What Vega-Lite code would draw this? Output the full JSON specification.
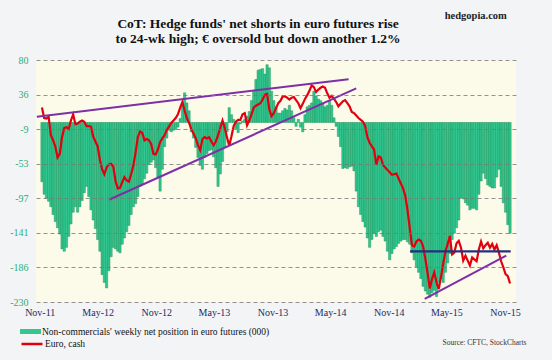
{
  "$schema": "https://vega.github.io/schema/vega-lite/v6.json",
  "width": 480,
  "height": 242,
  "autosize": {"type": "none"},
  "padding": {"left": 36, "top": 60, "right": 36, "bottom": 58},
  "background": "#f3f4f6",
  "title": {
    "text": "CoT: Hedge funds' net shorts in euro futures rise",
    "subtitle": "to 24-wk high; € oversold but down another 1.2%",
    "font": "Liberation Serif",
    "fontSize": 13.5,
    "fontWeight": "bold",
    "color": "#111111",
    "subtitleFont": "Liberation Serif",
    "subtitleFontSize": 13.5,
    "subtitleFontWeight": "bold",
    "subtitleColor": "#111111",
    "subtitlePadding": 1,
    "anchor": "middle",
    "frame": "group",
    "dx": -18,
    "offset": -34
  },
  "config": {
    "view": {"fill": "#fcfbea", "stroke": null},
    "font": "Liberation Serif"
  },
  "datasets": {
    "cot": [
      {"date":"2011-11-08","net":-76,"eur":135.3},
      {"date":"2011-11-15","net":-92,"eur":133.6},
      {"date":"2011-11-22","net":-97,"eur":133.5},
      {"date":"2011-11-29","net":-101,"eur":133.8},
      {"date":"2011-12-06","net":-108,"eur":130.8},
      {"date":"2011-12-13","net":-118,"eur":130.0},
      {"date":"2011-12-20","net":-127,"eur":129.0},
      {"date":"2011-12-27","net":-135,"eur":127.2},
      {"date":"2012-01-03","net":-143,"eur":127.8},
      {"date":"2012-01-10","net":-162,"eur":130.5},
      {"date":"2012-01-17","net":-165,"eur":132.0},
      {"date":"2012-01-24","net":-160,"eur":132.1},
      {"date":"2012-01-31","net":-146,"eur":131.8},
      {"date":"2012-02-07","net":-130,"eur":133.2},
      {"date":"2012-02-14","net":-115,"eur":134.2},
      {"date":"2012-02-21","net":-108,"eur":132.6},
      {"date":"2012-02-28","net":-115,"eur":132.7},
      {"date":"2012-03-06","net":-108,"eur":133.0},
      {"date":"2012-03-13","net":-100,"eur":133.2},
      {"date":"2012-03-20","net":-90,"eur":133.0},
      {"date":"2012-03-27","net":-82,"eur":132.3},
      {"date":"2012-04-03","net":-95,"eur":132.3},
      {"date":"2012-04-10","net":-112,"eur":132.2},
      {"date":"2012-04-17","net":-125,"eur":130.6},
      {"date":"2012-04-24","net":-136,"eur":129.8},
      {"date":"2012-05-01","net":-150,"eur":129.0},
      {"date":"2012-05-08","net":-165,"eur":126.8},
      {"date":"2012-05-15","net":-195,"eur":125.3},
      {"date":"2012-05-22","net":-205,"eur":124.5},
      {"date":"2012-05-29","net":-212,"eur":125.6},
      {"date":"2012-06-05","net":-190,"eur":126.1},
      {"date":"2012-06-12","net":-172,"eur":126.2},
      {"date":"2012-06-19","net":-160,"eur":125.7},
      {"date":"2012-06-26","net":-162,"eur":123.4},
      {"date":"2012-07-03","net":-165,"eur":122.2},
      {"date":"2012-07-10","net":-167,"eur":122.3},
      {"date":"2012-07-17","net":-156,"eur":123.2},
      {"date":"2012-07-24","net":-148,"eur":124.0},
      {"date":"2012-07-31","net":-140,"eur":123.5},
      {"date":"2012-08-07","net":-132,"eur":123.3},
      {"date":"2012-08-14","net":-118,"eur":124.5},
      {"date":"2012-08-21","net":-108,"eur":125.9},
      {"date":"2012-08-28","net":-104,"eur":128.0},
      {"date":"2012-09-04","net":-95,"eur":130.5},
      {"date":"2012-09-11","net":-82,"eur":131.4},
      {"date":"2012-09-18","net":-79,"eur":131.2},
      {"date":"2012-09-25","net":-72,"eur":130.0},
      {"date":"2012-10-02","net":-65,"eur":130.2},
      {"date":"2012-10-09","net":-54,"eur":130.0},
      {"date":"2012-10-16","net":-51,"eur":129.4},
      {"date":"2012-10-23","net":-48,"eur":127.8},
      {"date":"2012-10-30","net":-58,"eur":127.7},
      {"date":"2012-11-06","net":-70,"eur":128.5},
      {"date":"2012-11-13","net":-88,"eur":129.7},
      {"date":"2012-11-20","net":-60,"eur":130.3},
      {"date":"2012-11-27","net":-31,"eur":130.8},
      {"date":"2012-12-04","net":-20,"eur":131.7},
      {"date":"2012-12-11","net":-10,"eur":132.2},
      {"date":"2012-12-18","net":-12,"eur":132.8},
      {"date":"2012-12-25","net":-10,"eur":133.2},
      {"date":"2013-01-01","net":-9,"eur":133.6},
      {"date":"2013-01-08","net":-6,"eur":134.2},
      {"date":"2013-01-15","net":5,"eur":135.3},
      {"date":"2013-01-22","net":22,"eur":136.2},
      {"date":"2013-01-29","net":38,"eur":134.8},
      {"date":"2013-02-05","net":25,"eur":133.6},
      {"date":"2013-02-12","net":15,"eur":132.8},
      {"date":"2013-02-19","net":-12,"eur":131.8},
      {"date":"2013-02-26","net":-20,"eur":131.1},
      {"date":"2013-03-05","net":-32,"eur":130.3},
      {"date":"2013-03-12","net":-45,"eur":129.2},
      {"date":"2013-03-19","net":-55,"eur":128.4},
      {"date":"2013-03-26","net":-60,"eur":130.2},
      {"date":"2013-04-02","net":-45,"eur":130.5},
      {"date":"2013-04-09","net":-40,"eur":130.3},
      {"date":"2013-04-16","net":-36,"eur":130.5},
      {"date":"2013-04-23","net":-35,"eur":129.8},
      {"date":"2013-04-30","net":-44,"eur":129.2},
      {"date":"2013-05-07","net":-58,"eur":129.8},
      {"date":"2013-05-14","net":-82,"eur":130.8},
      {"date":"2013-05-21","net":-66,"eur":132.0},
      {"date":"2013-05-28","net":-50,"eur":133.2},
      {"date":"2013-06-04","net":-32,"eur":132.0},
      {"date":"2013-06-11","net":-12,"eur":130.5},
      {"date":"2013-06-18","net":19,"eur":129.1},
      {"date":"2013-06-25","net":10,"eur":130.6},
      {"date":"2013-07-02","net":4,"eur":132.3},
      {"date":"2013-07-09","net":-8,"eur":133.0},
      {"date":"2013-07-16","net":-13,"eur":133.3},
      {"date":"2013-07-23","net":-2,"eur":133.3},
      {"date":"2013-07-30","net":2,"eur":134.2},
      {"date":"2013-08-06","net":4,"eur":134.4},
      {"date":"2013-08-13","net":8,"eur":132.4},
      {"date":"2013-08-20","net":14,"eur":133.2},
      {"date":"2013-08-27","net":28,"eur":134.2},
      {"date":"2013-09-03","net":40,"eur":135.3},
      {"date":"2013-09-10","net":55,"eur":135.6},
      {"date":"2013-09-17","net":67,"eur":135.8},
      {"date":"2013-09-24","net":68,"eur":136.0},
      {"date":"2013-10-01","net":69,"eur":136.6},
      {"date":"2013-10-08","net":62,"eur":137.4},
      {"date":"2013-10-15","net":74,"eur":137.5},
      {"date":"2013-10-22","net":70,"eur":135.0},
      {"date":"2013-10-29","net":40,"eur":133.9},
      {"date":"2013-11-05","net":28,"eur":134.4},
      {"date":"2013-11-12","net":20,"eur":135.2},
      {"date":"2013-11-19","net":12,"eur":136.0},
      {"date":"2013-11-26","net":12,"eur":136.4},
      {"date":"2013-12-03","net":15,"eur":137.1},
      {"date":"2013-12-10","net":18,"eur":137.1},
      {"date":"2013-12-17","net":16,"eur":136.9},
      {"date":"2013-12-24","net":22,"eur":136.6},
      {"date":"2013-12-31","net":15,"eur":136.9},
      {"date":"2014-01-07","net":6,"eur":137.0},
      {"date":"2014-01-14","net":-5,"eur":136.5},
      {"date":"2014-01-21","net":4,"eur":136.0},
      {"date":"2014-01-28","net":-6,"eur":135.2},
      {"date":"2014-02-04","net":-12,"eur":135.9},
      {"date":"2014-02-11","net":10,"eur":136.7},
      {"date":"2014-02-18","net":20,"eur":137.3},
      {"date":"2014-02-25","net":22,"eur":138.0},
      {"date":"2014-03-04","net":25,"eur":138.9},
      {"date":"2014-03-11","net":40,"eur":138.6},
      {"date":"2014-03-18","net":34,"eur":137.8},
      {"date":"2014-03-25","net":30,"eur":138.2},
      {"date":"2014-04-01","net":28,"eur":138.5},
      {"date":"2014-04-08","net":25,"eur":138.7},
      {"date":"2014-04-15","net":20,"eur":138.5},
      {"date":"2014-04-22","net":22,"eur":137.6},
      {"date":"2014-04-29","net":28,"eur":136.9},
      {"date":"2014-05-06","net":22,"eur":137.2},
      {"date":"2014-05-13","net":6,"eur":136.7},
      {"date":"2014-05-20","net":-5,"eur":136.2},
      {"date":"2014-05-27","net":-18,"eur":135.5},
      {"date":"2014-06-03","net":-31,"eur":135.9},
      {"date":"2014-06-10","net":-59,"eur":136.3},
      {"date":"2014-06-17","net":-58,"eur":136.5},
      {"date":"2014-06-24","net":-59,"eur":136.0},
      {"date":"2014-07-01","net":-57,"eur":135.5},
      {"date":"2014-07-08","net":-56,"eur":134.6},
      {"date":"2014-07-15","net":-62,"eur":134.4},
      {"date":"2014-07-22","net":-88,"eur":134.0},
      {"date":"2014-07-29","net":-108,"eur":133.6},
      {"date":"2014-08-05","net":-118,"eur":133.3},
      {"date":"2014-08-12","net":-127,"eur":133.0},
      {"date":"2014-08-19","net":-134,"eur":132.3},
      {"date":"2014-08-26","net":-148,"eur":130.5},
      {"date":"2014-09-02","net":-160,"eur":129.6},
      {"date":"2014-09-09","net":-150,"eur":129.0},
      {"date":"2014-09-16","net":-142,"eur":128.5},
      {"date":"2014-09-23","net":-146,"eur":126.0},
      {"date":"2014-09-30","net":-140,"eur":127.4},
      {"date":"2014-10-07","net":-138,"eur":127.2},
      {"date":"2014-10-14","net":-146,"eur":126.0},
      {"date":"2014-10-21","net":-152,"eur":125.6},
      {"date":"2014-10-28","net":-165,"eur":125.2},
      {"date":"2014-11-04","net":-176,"eur":124.8},
      {"date":"2014-11-11","net":-168,"eur":124.4},
      {"date":"2014-11-18","net":-162,"eur":124.5},
      {"date":"2014-11-25","net":-159,"eur":124.6},
      {"date":"2014-12-02","net":-155,"eur":123.8},
      {"date":"2014-12-09","net":-152,"eur":123.0},
      {"date":"2014-12-16","net":-150,"eur":122.2},
      {"date":"2014-12-23","net":-150,"eur":121.0},
      {"date":"2014-12-30","net":-153,"eur":118.7},
      {"date":"2015-01-06","net":-156,"eur":115.8},
      {"date":"2015-01-13","net":-167,"eur":113.0},
      {"date":"2015-01-20","net":-176,"eur":112.8},
      {"date":"2015-01-27","net":-185,"eur":113.6},
      {"date":"2015-02-03","net":-192,"eur":113.9},
      {"date":"2015-02-10","net":-200,"eur":113.7},
      {"date":"2015-02-17","net":-210,"eur":112.8},
      {"date":"2015-02-24","net":-216,"eur":110.8},
      {"date":"2015-03-03","net":-220,"eur":108.5},
      {"date":"2015-03-10","net":-224,"eur":106.0},
      {"date":"2015-03-17","net":-218,"eur":107.5},
      {"date":"2015-03-24","net":-215,"eur":108.6},
      {"date":"2015-03-31","net":-223,"eur":107.0},
      {"date":"2015-04-07","net":-205,"eur":105.9},
      {"date":"2015-04-14","net":-200,"eur":107.8},
      {"date":"2015-04-21","net":-205,"eur":110.0},
      {"date":"2015-04-28","net":-192,"eur":112.0},
      {"date":"2015-05-05","net":-180,"eur":113.2},
      {"date":"2015-05-12","net":-168,"eur":114.5},
      {"date":"2015-05-19","net":-150,"eur":111.5},
      {"date":"2015-05-26","net":-142,"eur":111.8},
      {"date":"2015-06-02","net":-135,"eur":113.3},
      {"date":"2015-06-09","net":-125,"eur":113.7},
      {"date":"2015-06-16","net":-97,"eur":112.6},
      {"date":"2015-06-23","net":-98,"eur":110.5},
      {"date":"2015-06-30","net":-103,"eur":111.3},
      {"date":"2015-07-07","net":-106,"eur":110.5},
      {"date":"2015-07-14","net":-112,"eur":109.7},
      {"date":"2015-07-21","net":-110,"eur":111.0},
      {"date":"2015-07-28","net":-110,"eur":110.7},
      {"date":"2015-08-04","net":-112,"eur":110.4},
      {"date":"2015-08-11","net":-92,"eur":112.3},
      {"date":"2015-08-18","net":-75,"eur":113.6},
      {"date":"2015-08-25","net":-65,"eur":112.5},
      {"date":"2015-09-01","net":-72,"eur":113.0},
      {"date":"2015-09-08","net":-80,"eur":113.4},
      {"date":"2015-09-15","net":-82,"eur":112.6},
      {"date":"2015-09-22","net":-84,"eur":113.2},
      {"date":"2015-09-29","net":-84,"eur":112.3},
      {"date":"2015-10-06","net":-70,"eur":113.0},
      {"date":"2015-10-13","net":-60,"eur":111.8},
      {"date":"2015-10-20","net":-82,"eur":110.4},
      {"date":"2015-10-27","net":-103,"eur":109.4},
      {"date":"2015-11-03","net":-115,"eur":108.3},
      {"date":"2015-11-10","net":-131,"eur":108.0},
      {"date":"2015-11-17","net":-142,"eur":106.8}
    ],
    "trendP": [
      {"date":"2011-10-23","v":133.8,"g":"a"},
      {"date":"2014-06-28","v":139.9,"g":"a"},
      {"date":"2012-06-07","v":120.4,"g":"b"},
      {"date":"2014-07-22","v":138.4,"g":"b"},
      {"date":"2015-02-22","v":104.3,"g":"d"},
      {"date":"2015-11-05","v":111.3,"g":"d"}
    ],
    "trendN": [
      {"date":"2015-01-07","v":112.0},
      {"date":"2015-11-19","v":112.0}
    ]
  },
  "data": {"name": "cot"},
  "layer": [
    {
      "mark": {"type": "bar", "size": 2.3, "stroke": "#138a50", "strokeWidth": 0.4},
      "encoding": {
        "x": {
          "field": "date", "type": "temporal",
          "scale": {"type": "utc", "domain": [{"year":2011,"month":"nov","date":5,"utc":true},{"year":2015,"month":"nov","date":20,"utc":true}], "nice": false},
          "axis": {
            "values": [
              {"year":2011,"month":"nov","date":1,"utc":true},
              {"year":2012,"month":"may","date":1,"utc":true},
              {"year":2012,"month":"nov","date":1,"utc":true},
              {"year":2013,"month":"may","date":1,"utc":true},
              {"year":2013,"month":"nov","date":1,"utc":true},
              {"year":2014,"month":"may","date":1,"utc":true},
              {"year":2014,"month":"nov","date":1,"utc":true},
              {"year":2015,"month":"may","date":1,"utc":true},
              {"year":2015,"month":"nov","date":1,"utc":true}
            ],
            "format": "%b-%y",
            "labelFlush": false,
            "labelAlign": "center",
            "labelOverlap": false,
            "ticks": false,
            "domain": false,
            "grid": false,
            "labelPadding": 5,
            "labelFontSize": 10,
            "labelColor": "#1d2b5e",
            "title": "Source: CFTC, StockCharts",
            "titleFontSize": 7.5,
            "titleFontWeight": "normal",
            "titleColor": "#333333",
            "titleAlign": "right",
            "titleBaseline": "middle",
            "titleX": 490,
            "titleY": 40
          }
        },
        "y": {
          "field": "net", "type": "quantitative",
          "scale": {"domain": [-230, 80], "nice": false, "zero": false},
          "axis": {
            "values": [80, 35.714, -8.571, -52.857, -97.143, -141.429, -185.714, -230],
            "labelExpr": "'' + round(datum.value)",
            "grid": true,
            "gridDash": [4, 3],
            "gridColor": "#777777",
            "gridWidth": 0.8,
            "ticks": false,
            "domain": false,
            "labelColor": "#2aad78",
            "labelFontSize": 10,
            "labelPadding": 8,
            "labelFlush": false,
            "title": null,
            "zindex": 1
          }
        },
        "fill": {
          "datum": "Non-commercials' weekly net position in euro futures (000)",
          "scale": {"range": ["#33c690"]},
          "legend": {
            "orient": "none", "legendX": -16, "legendY": 261,
            "title": null,
            "symbolType": "M-1,-0.24L1,-0.24L1,0.24L-1,0.24Z",
            "symbolSize": 441,
            "symbolStrokeWidth": 0,
            "labelFontSize": 9.5,
            "labelColor": "#111111",
            "labelOffset": 1,
            "labelLimit": 400,
            "padding": 0
          }
        }
      }
    },
    {
      "layer": [
        {
          "mark": {"type": "line", "strokeWidth": 2.2},
          "encoding": {
            "x": {"field": "date", "type": "temporal",
                  "scale": {"type": "utc", "domain": [{"year":2011,"month":"nov","date":5,"utc":true},{"year":2015,"month":"nov","date":20,"utc":true}], "nice": false}},
            "y": {
              "field": "eur", "type": "quantitative",
              "scale": {"domain": [103.8, 143], "nice": false, "zero": false},
              "axis": {
                "orient": "right",
                "values": [103.8, 109.4, 115, 120.6, 126.2, 131.8, 137.4, 143],
                "labelExpr": "'' + round(datum.value)",
                "grid": false,
                "ticks": false,
                "domain": false,
                "labelColor": "#d0101b",
                "labelFontSize": 10,
                "labelPadding": 8,
                "labelFlush": false,
                "labelOverlap": false,
                "title": null
              }
            },
            "stroke": {
              "datum": "Euro, cash",
              "scale": {"range": ["#e2000f"]},
              "legend": {
                "orient": "none", "legendX": -16, "legendY": 272,
                "title": null,
                "symbolType": "stroke",
                "symbolSize": 441,
                "symbolStrokeWidth": 2.5,
                "labelFontSize": 9.5,
                "labelColor": "#111111",
                "labelOffset": 1,
                "padding": 0
              }
            }
          }
        },
        {
          "data": {"name": "trendP"},
          "mark": {"type": "line", "color": "#7e2fa8", "strokeWidth": 2},
          "encoding": {
            "x": {"field": "date", "type": "temporal",
                  "scale": {"type": "utc", "domain": [{"year":2011,"month":"nov","date":5,"utc":true},{"year":2015,"month":"nov","date":20,"utc":true}], "nice": false}},
            "y": {"field": "v", "type": "quantitative", "axis": null,
                  "scale": {"domain": [103.8, 143], "nice": false, "zero": false}},
            "detail": {"field": "g"}
          }
        },
        {
          "data": {"name": "trendN"},
          "mark": {"type": "line", "color": "#262f7d", "strokeWidth": 2.2},
          "encoding": {
            "x": {"field": "date", "type": "temporal",
                  "scale": {"type": "utc", "domain": [{"year":2011,"month":"nov","date":5,"utc":true},{"year":2015,"month":"nov","date":20,"utc":true}], "nice": false}},
            "y": {"field": "v", "type": "quantitative", "axis": null,
                  "scale": {"domain": [103.8, 143], "nice": false, "zero": false}}
          }
        },
        {
          "data": {"values": [{}]},
          "mark": {"type": "text", "text": "hedgopia.com", "align": "right", "baseline": "middle", "fontSize": 10.5, "fontWeight": "bold", "font": "Liberation Serif", "color": "#222222"},
          "encoding": {
            "x": {"datum": {"year":2015,"month":"nov","date":7,"utc":true}, "type": "temporal",
                  "scale": {"type": "utc", "domain": [{"year":2011,"month":"nov","date":5,"utc":true},{"year":2015,"month":"nov","date":20,"utc":true}], "nice": false}},
            "y": {"datum": 150.1, "type": "quantitative", "axis": null,
                  "scale": {"domain": [103.8, 143], "nice": false, "zero": false}}
          }
        }
      ]
    }
  ],
  "resolve": {"scale": {"y": "independent"}}
}
